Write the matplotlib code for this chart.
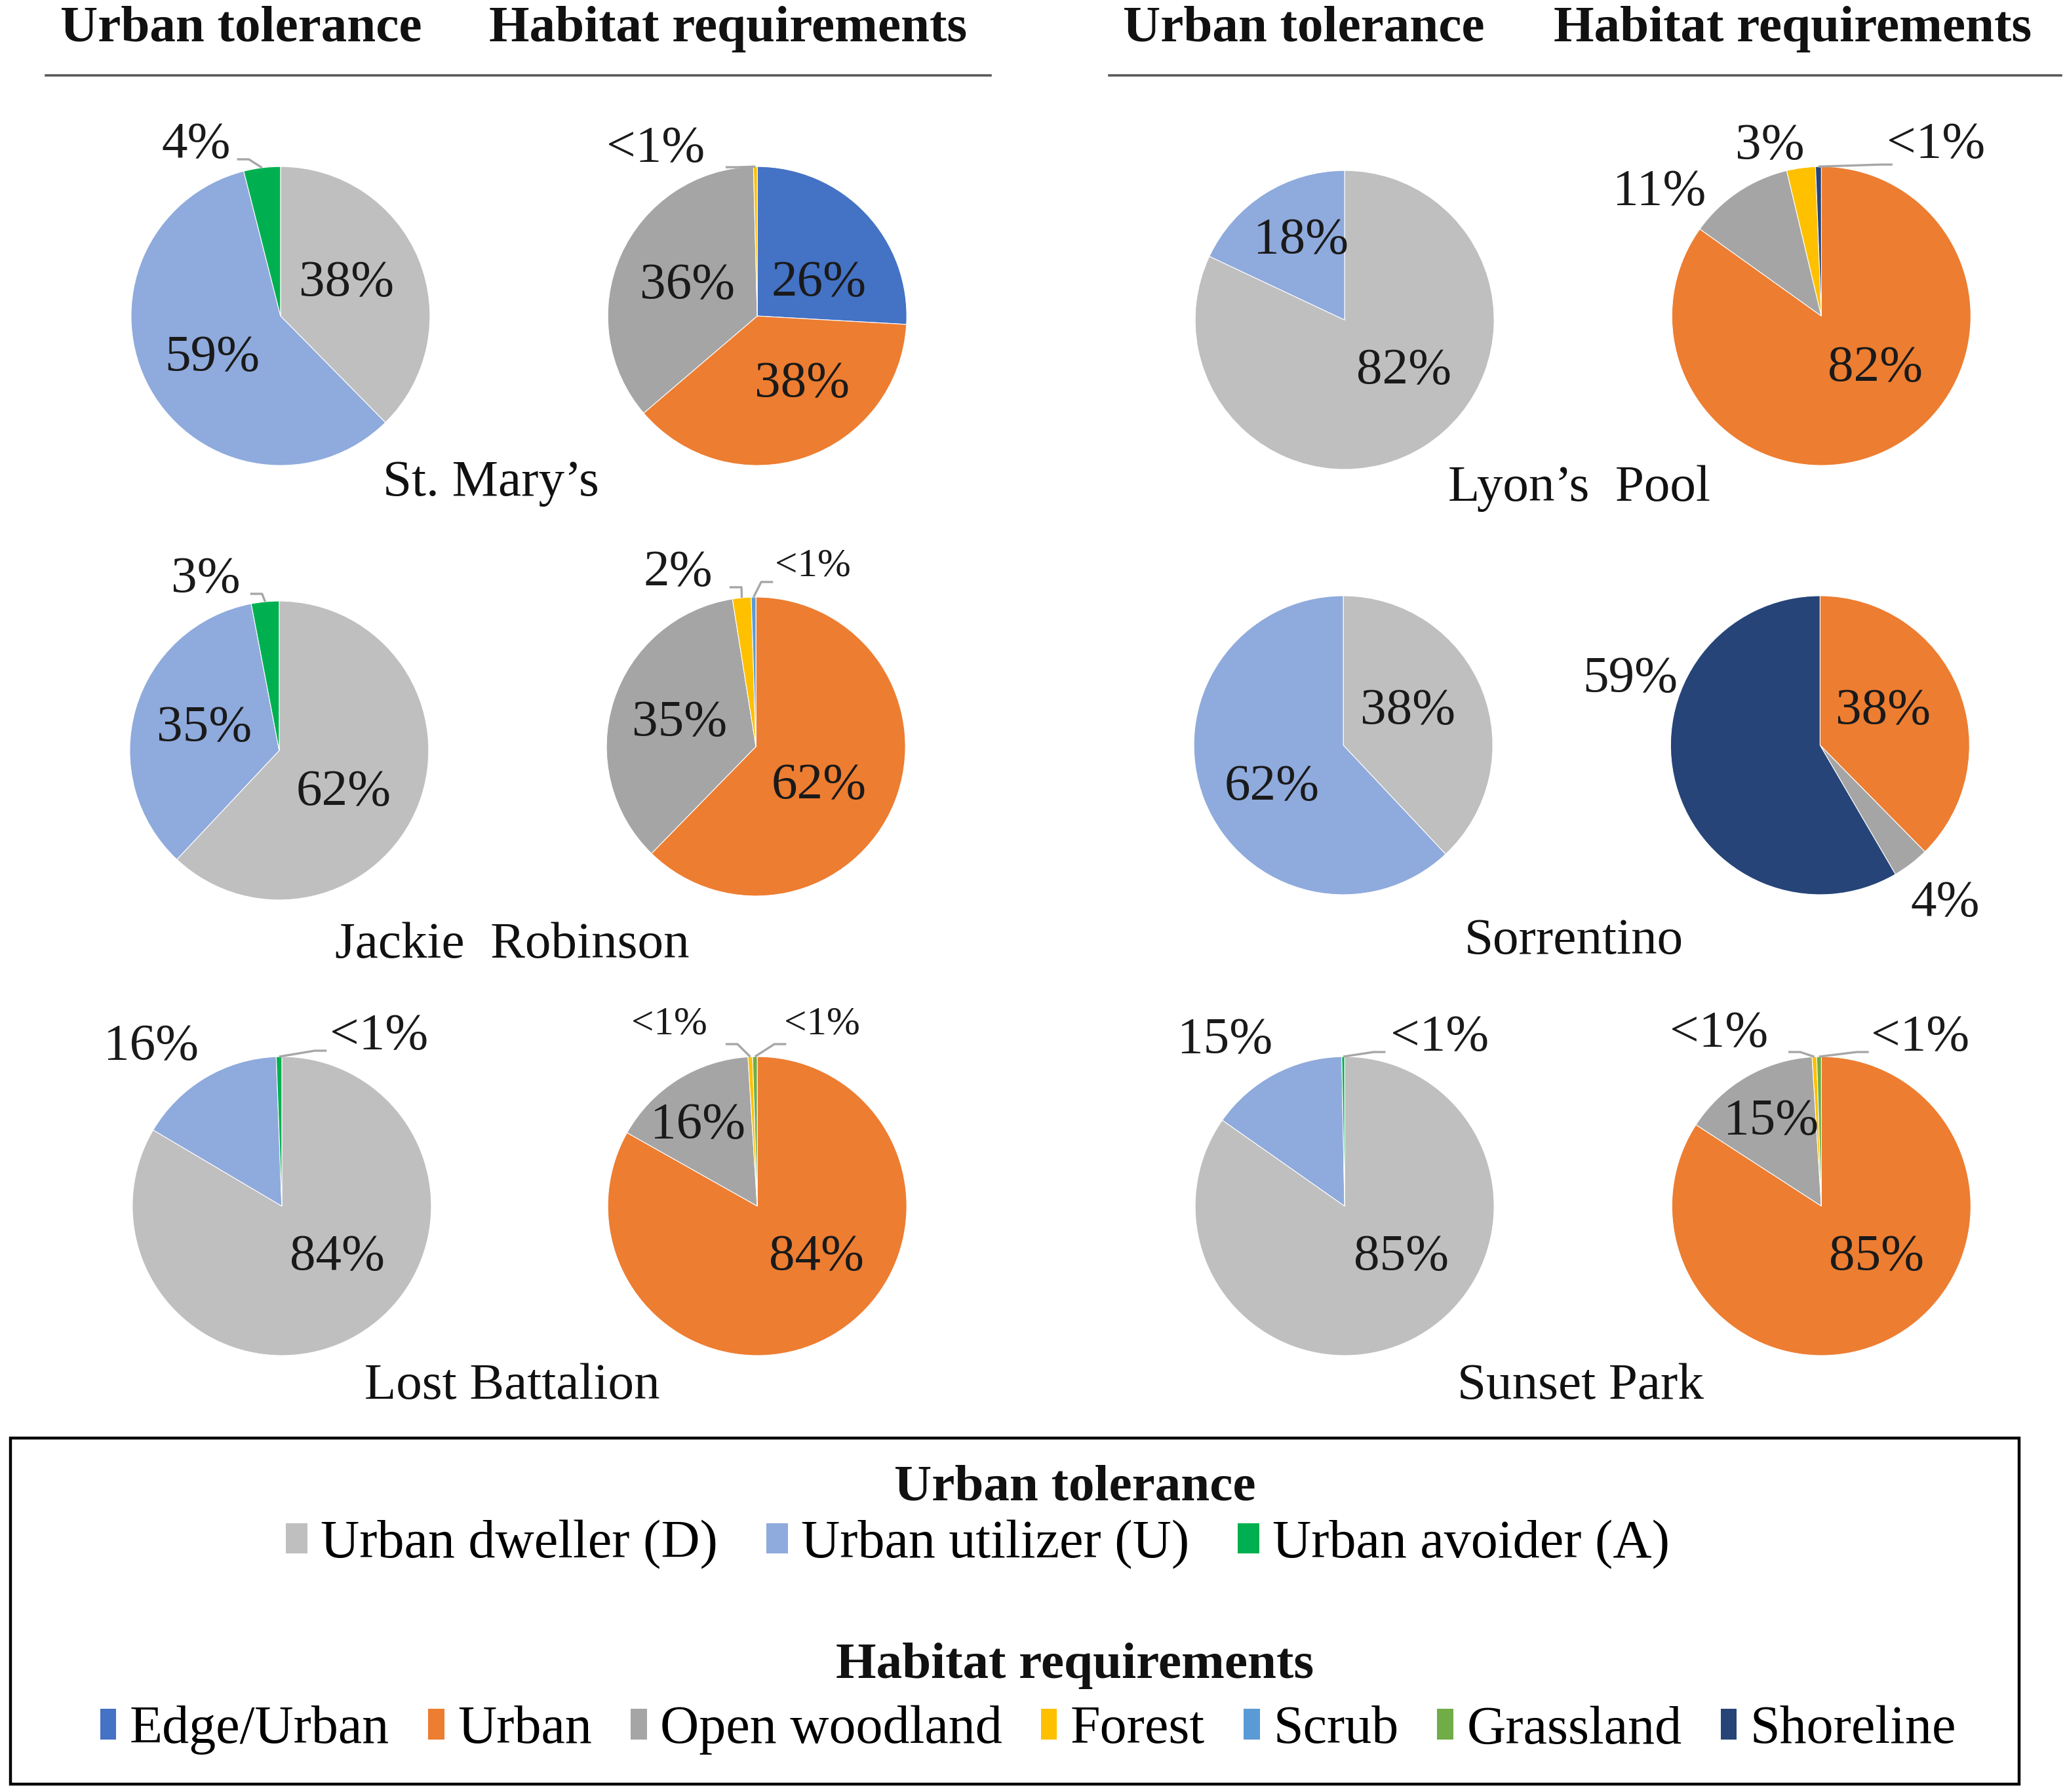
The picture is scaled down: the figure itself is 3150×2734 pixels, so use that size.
import numpy as np
import matplotlib
matplotlib.use("Agg")
import matplotlib.pyplot as plt
from matplotlib.patches import Patch, Rectangle
from matplotlib import font_manager as fm
from matplotlib.font_manager import FontProperties

plt.rcParams['font.family'] = 'Liberation Serif'

# ---------------- data ----------------
parks = ["St. Mary\u2019s", "Lyon\u2019s  Pool", "Jackie  Robinson",
         "Sorrentino", "Lost Battalion", "Sunset Park"]

tolerance_categories = ["Urban dweller (D)", "Urban utilizer (U)", "Urban avoider (A)"]
tolerance_colors = ["#BFBFBF", "#8FAADC", "#00B050"]

habitat_categories = ["Edge/Urban", "Urban", "Open woodland", "Forest",
                      "Scrub", "Grassland", "Shoreline"]
habitat_colors = ["#4472C4", "#ED7D31", "#A5A5A5", "#FFC000",
                  "#5B9BD5", "#70AD47", "#264478"]

# percent of species per park (D, U, A)
tol_st_marys = [38, 59, 4]
tol_lyons = [82, 18, 0]
tol_jackie = [62, 35, 3]
tol_sorrentino = [38, 62, 0]
tol_lost = [84, 16, 0.6]
tol_sunset = [85, 15, 0.3]

# percent of species per park (Edge/Urban, Urban, Open woodland, Forest, Scrub, Grassland, Shoreline)
hab_st_marys = [26, 38, 36, 0.4, 0, 0, 0]
hab_lyons = [0, 82, 11, 3, 0, 0, 0.6]
hab_jackie = [0, 62, 35, 2, 0.5, 0, 0]
hab_sorrentino = [0, 38, 4, 0, 0, 0, 59]
hab_lost = [0, 84, 16, 0.5, 0, 0.5, 0]
hab_sunset = [0, 85, 15, 0.5, 0, 0.5, 0]

tolerance_data = [tol_st_marys, tol_lyons, tol_jackie, tol_sorrentino, tol_lost, tol_sunset]
habitat_data = [hab_st_marys, hab_lyons, hab_jackie, hab_sorrentino, hab_lost, hab_sunset]

# ---------------- layout (in reference "display" units, y from top) ----------------
W, H = 1568, 1361
R = 113.5
FS = 28.5
FS_LEG = 29.5
FS_SMALL = 22

reg_path = fm.findfont(FontProperties(family='Liberation Serif', weight='normal'))
bold_path = fm.findfont(FontProperties(family='Liberation Serif', weight='bold'))

def fp(size, bold=False):
    return FontProperties(fname=bold_path if bold else reg_path, size=size)

fig = plt.figure(figsize=(15.75, 13.67), dpi=200)
ax = fig.add_axes([0, 0, 1, 1])

def Y(y):
    return H - y

tol_centers = [(213, 240), (1021, 243), (212, 570), (1020, 566), (214, 916), (1021, 916)]
hab_centers = [(575, 240), (1383, 240), (574, 567), (1382, 566), (575, 916), (1383, 916)]
name_pos = [(373, 367), (1199, 371), (389, 718), (1195, 715), (389, 1053), (1200, 1053)]

# label positions for each non-zero slice (in order), optional leader anchor, small font flag
tol_labels = [
    [((263, 215), None, False), ((161, 272), None, False), ((149, 110), (180, 121), False)],
    [((1066, 282), None, False), ((988, 183), None, False)],
    [((261, 602), None, False), ((155, 553), None, False), ((156, 440), (190, 451), False)],
    [((1069, 540), None, False), ((966, 598), None, False)],
    [((256, 955), None, False), ((115, 795), None, False), ((288, 787), (248, 798), False)],
    [((1064, 955), None, False), ((930, 790), None, False), ((1093, 788), (1052, 799), False)],
]
hab_labels = [
    [((622, 215), None, False), ((609, 292), None, False), ((522, 217), None, False),
     ((498, 113), (551, 127), False)],
    [((1424, 280), None, False), ((1260, 146), None, False), ((1344, 111), None, False),
     ((1470, 110), (1437, 125), False)],
    [((622, 597), None, False), ((516, 549), None, False), ((515, 435), (554, 446), False),
     ((617, 430), (587, 442), True)],
    [((1430, 540), None, False), ((1477, 686), None, False), ((1238, 516), None, False)],
    [((620, 955), None, False), ((530, 855), None, False), ((508, 778), (551, 793), True),
     ((624, 778), (597, 793), True)],
    [((1425, 955), None, False), ((1345, 852), None, False), ((1305, 785), (1358, 799), False),
     ((1458, 788), (1419, 799), False)],
]

def pct_text(v):
    return "<1%" if v < 1 else f"{v:.0f}%"

def draw_pie(values, colors, center, labels, text_color="#1a1a1a"):
    vals = [v for v in values if v > 0]
    cols = [c for v, c in zip(values, colors) if v > 0]
    cx, cy = center
    ax.pie(vals, colors=cols, startangle=90, counterclock=False,
           center=(cx, Y(cy)), radius=R,
           wedgeprops=dict(linewidth=0.4, edgecolor="white"))
    total = float(sum(vals))
    cum = 0.0
    for v, (pos, anchor, small) in zip(vals, labels):
        frac_mid = (cum + v / 2.0) / total
        cum += v
        ax.text(pos[0], Y(pos[1]), pct_text(v), ha="center", va="center",
                fontproperties=fp(FS_SMALL if small else FS), color=text_color)
        if anchor is not None:
            theta = np.deg2rad(90 - 360 * frac_mid)
            ex, ey = cx + R * np.cos(theta), Y(cy) + R * np.sin(theta)
            ax_, ay_ = anchor[0], Y(anchor[1])
            step = 9 if ex > ax_ else -9
            ax.plot([ax_, ax_ + step, ex], [ay_, ay_, ey], color="#A6A6A6",
                    lw=1.2, solid_capstyle="butt", zorder=3)

for i in range(6):
    draw_pie(tolerance_data[i], tolerance_colors, tol_centers[i], tol_labels[i])
    draw_pie(habitat_data[i], habitat_colors, hab_centers[i], hab_labels[i])
    ax.text(name_pos[i][0], Y(name_pos[i][1]), parks[i], ha="center", va="center",
            fontproperties=fp(FS), color="#111111")

# headers
for x_ut, x_hr, x0, x1 in [(183, 553, 35, 752), (990, 1361, 842, 1565)]:
    ax.text(x_ut, Y(22), "Urban tolerance", ha="center", va="center",
            fontproperties=fp(FS, True), color="#111111")
    ax.text(x_hr, Y(22), "Habitat requirements", ha="center", va="center",
            fontproperties=fp(FS, True), color="#111111")
    ax.plot([x0, x1], [Y(57), Y(57)], color="#595959", lw=1.3)

# legend box
ax.add_patch(Rectangle((8, Y(1355)), 1533 - 8, 1355 - 1092, fill=False,
                       edgecolor="black", lw=1.6, zorder=5))
ax.text(816, Y(1130), "Urban tolerance", ha="center", va="center",
        fontproperties=fp(FS, True), color="#111111")
ax.text(816, Y(1265), "Habitat requirements", ha="center", va="center",
        fontproperties=fp(FS, True), color="#111111")

h1 = [Patch(facecolor=c, edgecolor="none") for c in tolerance_colors]
leg1 = ax.legend(h1, tolerance_categories, ncol=3, loc="center left",
                 bbox_to_anchor=(217, Y(1173)), bbox_transform=ax.transData,
                 frameon=False, prop=fp(FS_LEG), handlelength=0.4, handleheight=0.5,
                 handletextpad=0.25, columnspacing=0.9, borderpad=0, borderaxespad=0)
ax.add_artist(leg1)
h2 = [Patch(facecolor=c, edgecolor="none") for c in habitat_colors]
leg2 = ax.legend(h2, habitat_categories, ncol=7, loc="center left",
                 bbox_to_anchor=(76, Y(1314)), bbox_transform=ax.transData,
                 frameon=False, prop=fp(FS_LEG), handlelength=0.3, handleheight=0.5,
                 handletextpad=0.25, columnspacing=0.72, borderpad=0, borderaxespad=0)

ax.set_xlim(0, W)
ax.set_ylim(0, H)
ax.set_aspect("auto")
ax.axis("off")

fig.savefig("out.png", dpi=200, facecolor="white")
